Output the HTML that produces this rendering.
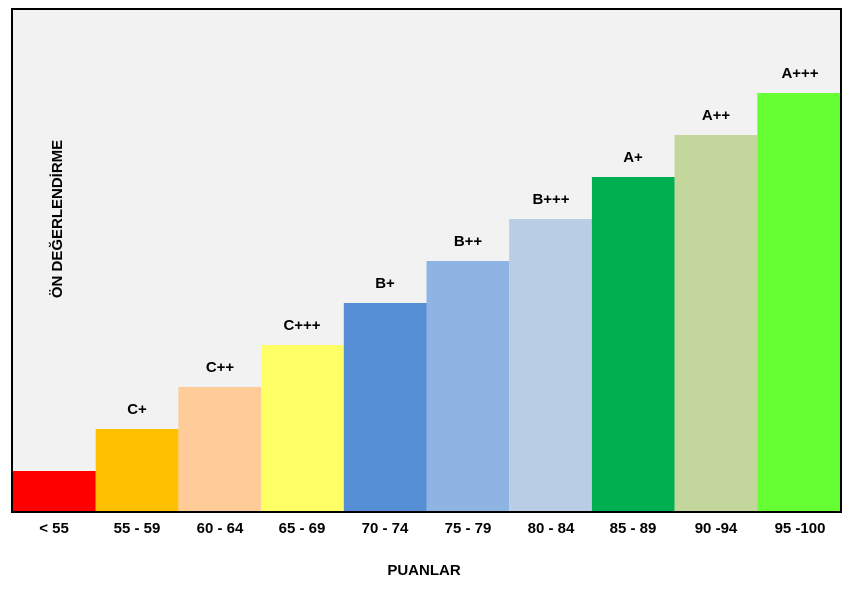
<!DOCTYPE html>
<html><head><meta charset="utf-8"><style>body{margin:0;background:#fff}svg{display:block}text{font-family:"Liberation Sans",sans-serif;font-weight:bold;font-size:15px;fill:#000}</style></head><body>
<svg width="854" height="600" xmlns="http://www.w3.org/2000/svg">
<rect x="12" y="9" width="829" height="503" fill="#f2f2f2"/>
<g>
<rect x="13" y="471" width="82.7" height="41" fill="#ff0000"/>
<rect x="95.7" y="429" width="82.7" height="83" fill="#ffc000"/>
<rect x="178.4" y="387" width="82.7" height="125" fill="#ffcc99"/>
<rect x="261.1" y="345" width="82.7" height="167" fill="#ffff66"/>
<rect x="343.8" y="303" width="82.7" height="209" fill="#558ed5"/>
<rect x="426.5" y="261" width="82.7" height="251" fill="#8eb4e3"/>
<rect x="509.2" y="219" width="82.7" height="293" fill="#b9cde5"/>
<rect x="591.9" y="177" width="82.7" height="335" fill="#00b050"/>
<rect x="674.6" y="135" width="82.7" height="377" fill="#c3d69b"/>
<rect x="757.3" y="93" width="83.7" height="419" fill="#66ff33"/>
</g>
<rect x="12" y="9" width="829" height="503" fill="none" stroke="#000" stroke-width="2"/>
<g text-anchor="middle">
<text x="137" y="414">C+</text>
<text x="220" y="372">C++</text>
<text x="302" y="330">C+++</text>
<text x="385" y="288">B+</text>
<text x="468" y="246">B++</text>
<text x="551" y="204">B+++</text>
<text x="633" y="162">A+</text>
<text x="716" y="120">A++</text>
<text x="800" y="78">A+++</text>
<text x="54" y="533">&lt; 55</text>
<text x="137" y="533">55 - 59</text>
<text x="220" y="533">60 - 64</text>
<text x="302" y="533">65 - 69</text>
<text x="385" y="533">70 - 74</text>
<text x="468" y="533">75 - 79</text>
<text x="551" y="533">80 - 84</text>
<text x="633" y="533">85 - 89</text>
<text x="716" y="533">90 -94</text>
<text x="800" y="533">95 -100</text>
<text x="424" y="575">PUANLAR</text>
<text transform="translate(62,219) rotate(-90)">ÖN DEĞERLENDİRME</text>
</g>
</svg>
</body></html>
